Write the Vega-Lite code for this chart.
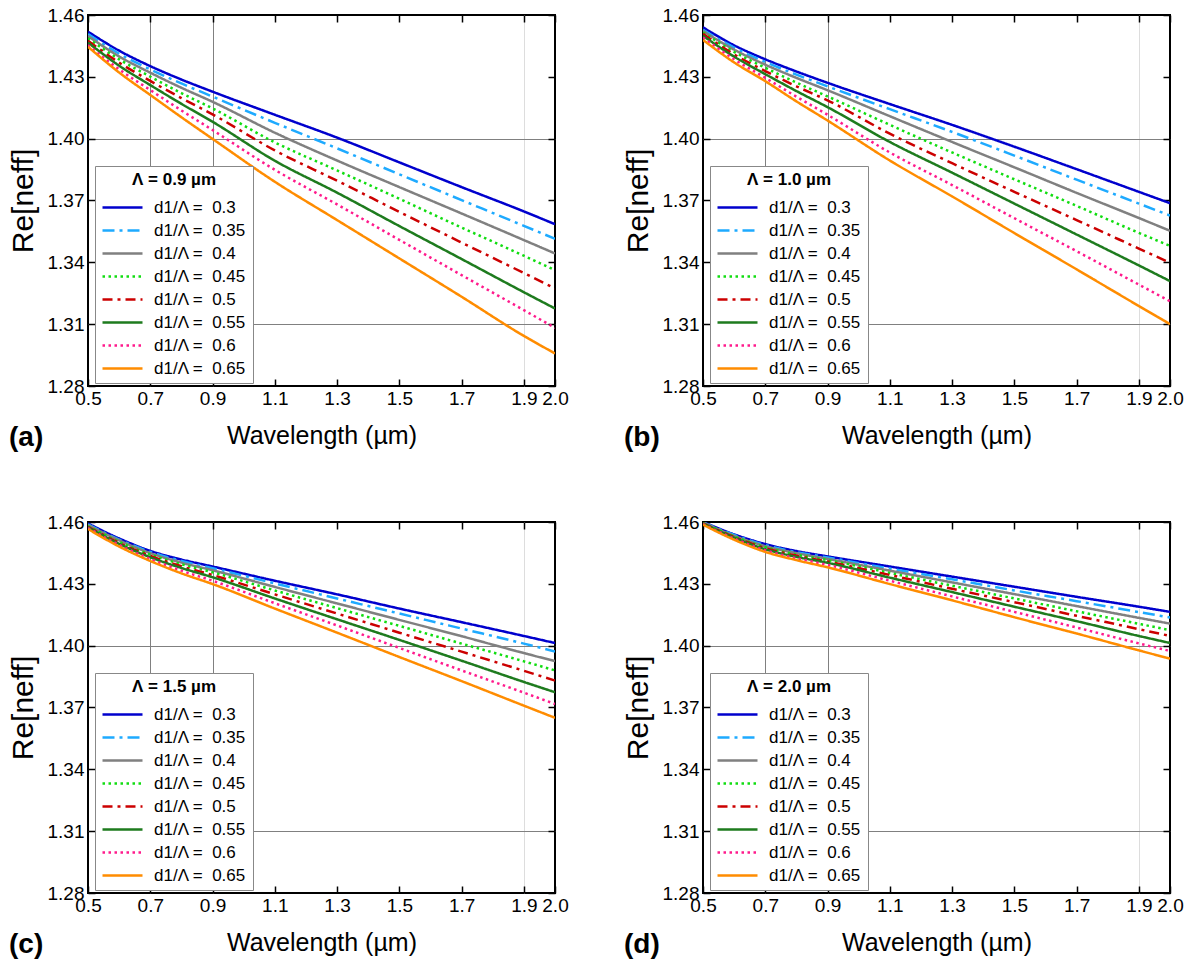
{
"$schema": "https://vega.github.io/schema/vega-lite/v6.json",
"padding": {"left": 7, "top": 5, "right": 5, "bottom": 5},
"config": {
  "font": "Liberation Sans",
  "background": "white",
  "view": {"stroke": "black", "strokeWidth": 2},
  "axis": {"labelColor": "black", "titleColor": "black", "tickColor": "black", "tickWidth": 1.5, "domain": false, "labelOverlap": false, "labelFlush": false, "labelFontSize": 19, "titleFontSize": 25, "titleFontWeight": "normal"},
  "legend": {"orient": "none", "legendX": 7, "legendY": 151, "fillColor": "white", "strokeColor": "#888888", "padding": 6, "titleFontSize": 17, "titleFontWeight": "bold", "titleAnchor": "middle", "titlePadding": 7, "titleColor": "black", "labelFontSize": 17, "labelColor": "black", "symbolType": "M-2,0H2", "symbolSize": 400, "symbolOffset": 10, "symbolStrokeWidth": 2.5, "labelOffset": 20, "rowPadding": 3},
  "title": {"fontSize": 28, "fontWeight": "bold", "color": "black"}
},
"data": {"values": [
{"p":"a","x":0.5,"d3":1.4519,"d35":1.4508,"d4":1.4498,"d45":1.4487,"d5":1.4475,"d55":1.4466,"d6":1.4454,"d65":1.4446},
{"p":"a","x":0.6,"d3":1.4427,"d35":1.4412,"d4":1.4399,"d45":1.4385,"d5":1.4369,"d55":1.4354,"d6":1.4336,"d65":1.4321},
{"p":"a","x":0.7,"d3":1.4352,"d35":1.4336,"d4":1.4320,"d45":1.4301,"d5":1.4280,"d55":1.4260,"d6":1.4236,"d65":1.4212},
{"p":"a","x":0.8,"d3":1.4287,"d35":1.4268,"d4":1.4247,"d45":1.4221,"d5":1.4197,"d55":1.4169,"d6":1.4137,"d65":1.4104},
{"p":"a","x":0.9,"d3":1.4228,"d35":1.4204,"d4":1.4179,"d45":1.4147,"d5":1.4118,"d55":1.4082,"d6":1.4042,"d65":1.3999},
{"p":"a","x":1.1,"d3":1.4116,"d35":1.4077,"d4":1.4029,"d45":1.3982,"d5":1.3943,"d55":1.3893,"d6":1.3849,"d65":1.3791},
{"p":"a","x":1.3,"d3":1.4005,"d35":1.3953,"d4":1.3894,"d45":1.3846,"d5":1.3796,"d55":1.3738,"d6":1.3681,"d65":1.3605},
{"p":"a","x":1.5,"d3":1.3885,"d35":1.3827,"d4":1.3765,"d45":1.3708,"d5":1.3645,"d55":1.3576,"d6":1.3509,"d65":1.3419},
{"p":"a","x":1.7,"d3":1.3765,"d35":1.3702,"d4":1.3637,"d45":1.3569,"d5":1.3496,"d55":1.3416,"d6":1.3338,"d65":1.3233},
{"p":"a","x":1.9,"d3":1.3647,"d35":1.3577,"d4":1.3508,"d45":1.3432,"d5":1.3348,"d55":1.3255,"d6":1.3168,"d65":1.3043},
{"p":"a","x":2.0,"d3":1.3585,"d35":1.3514,"d4":1.3443,"d45":1.3362,"d5":1.3273,"d55":1.3176,"d6":1.3082,"d65":1.2958},
{"p":"b","x":0.5,"d3":1.4540,"d35":1.4528,"d4":1.4522,"d45":1.4515,"d5":1.4509,"d55":1.4499,"d6":1.4491,"d65":1.4479},
{"p":"b","x":0.6,"d3":1.4453,"d35":1.4442,"d4":1.4432,"d45":1.4421,"d5":1.4409,"d55":1.4398,"d6":1.4385,"d65":1.4370},
{"p":"b","x":0.7,"d3":1.4385,"d35":1.4372,"d4":1.4359,"d45":1.4344,"d5":1.4328,"d55":1.4313,"d6":1.4295,"d65":1.4279},
{"p":"b","x":0.8,"d3":1.4326,"d35":1.4311,"d4":1.4295,"d45":1.4272,"d5":1.4254,"d55":1.4231,"d6":1.4204,"d65":1.4181},
{"p":"b","x":0.9,"d3":1.4271,"d35":1.4254,"d4":1.4235,"d45":1.4205,"d5":1.4186,"d55":1.4153,"d6":1.4116,"d65":1.4088},
{"p":"b","x":1.1,"d3":1.4168,"d35":1.4143,"d4":1.4109,"d45":1.4067,"d5":1.4024,"d55":1.3984,"d6":1.3933,"d65":1.3894},
{"p":"b","x":1.3,"d3":1.4067,"d35":1.4033,"d4":1.3984,"d45":1.3933,"d5":1.3881,"d55":1.3835,"d6":1.3775,"d65":1.3720},
{"p":"b","x":1.5,"d3":1.3961,"d35":1.3918,"d4":1.3861,"d45":1.3803,"d5":1.3742,"d55":1.3685,"d6":1.3614,"d65":1.3542},
{"p":"b","x":1.7,"d3":1.3852,"d35":1.3801,"d4":1.3737,"d45":1.3674,"d5":1.3605,"d55":1.3535,"d6":1.3454,"d65":1.3366},
{"p":"b","x":1.9,"d3":1.3742,"d35":1.3685,"d4":1.3615,"d45":1.3543,"d5":1.3467,"d55":1.3385,"d6":1.3292,"d65":1.3188},
{"p":"b","x":2.0,"d3":1.3687,"d35":1.3627,"d4":1.3553,"d45":1.3480,"d5":1.3398,"d55":1.3309,"d6":1.3211,"d65":1.3100},
{"p":"c","x":0.5,"d3":1.4593,"d35":1.4589,"d4":1.4585,"d45":1.4580,"d5":1.4577,"d55":1.4574,"d6":1.4571,"d65":1.4566},
{"p":"c","x":0.6,"d3":1.4520,"d35":1.4515,"d4":1.4511,"d45":1.4504,"d5":1.4499,"d55":1.4494,"d6":1.4489,"d65":1.4481},
{"p":"c","x":0.7,"d3":1.4460,"d35":1.4455,"d4":1.4449,"d45":1.4442,"d5":1.4436,"d55":1.4429,"d6":1.4421,"d65":1.4411},
{"p":"c","x":0.8,"d3":1.4418,"d35":1.4411,"d4":1.4403,"d45":1.4395,"d5":1.4385,"d55":1.4377,"d6":1.4364,"d65":1.4351},
{"p":"c","x":0.9,"d3":1.4384,"d35":1.4376,"d4":1.4366,"d45":1.4356,"d5":1.4343,"d55":1.4332,"d6":1.4315,"d65":1.4299},
{"p":"c","x":1.1,"d3":1.4315,"d35":1.4302,"d4":1.4285,"d45":1.4268,"d5":1.4249,"d55":1.4229,"d6":1.4206,"d65":1.4180},
{"p":"c","x":1.3,"d3":1.4249,"d35":1.4229,"d4":1.4205,"d45":1.4182,"d5":1.4156,"d55":1.4128,"d6":1.4098,"d65":1.4063},
{"p":"c","x":1.5,"d3":1.4180,"d35":1.4156,"d4":1.4125,"d45":1.4096,"d5":1.4063,"d55":1.4028,"d6":1.3989,"d65":1.3945},
{"p":"c","x":1.7,"d3":1.4114,"d35":1.4083,"d4":1.4046,"d45":1.4010,"d5":1.3971,"d55":1.3927,"d6":1.3880,"d65":1.3828},
{"p":"c","x":1.9,"d3":1.4047,"d35":1.4010,"d4":1.3964,"d45":1.3924,"d5":1.3878,"d55":1.3824,"d6":1.3772,"d65":1.3709},
{"p":"c","x":2.0,"d3":1.4013,"d35":1.3972,"d4":1.3925,"d45":1.3880,"d5":1.3831,"d55":1.3774,"d6":1.3717,"d65":1.3650},
{"p":"d","x":0.5,"d3":1.4600,"d35":1.4598,"d4":1.4597,"d45":1.4595,"d5":1.4593,"d55":1.4592,"d6":1.4590,"d65":1.4587},
{"p":"d","x":0.6,"d3":1.4540,"d35":1.4537,"d4":1.4533,"d45":1.4530,"d5":1.4527,"d55":1.4524,"d6":1.4520,"d65":1.4514},
{"p":"d","x":0.7,"d3":1.4493,"d35":1.4488,"d4":1.4483,"d45":1.4478,"d5":1.4473,"d55":1.4468,"d6":1.4463,"d65":1.4455},
{"p":"d","x":0.8,"d3":1.4459,"d35":1.4454,"d4":1.4449,"d45":1.4442,"d5":1.4437,"d55":1.4431,"d6":1.4424,"d65":1.4415},
{"p":"d","x":0.9,"d3":1.4433,"d35":1.4428,"d4":1.4421,"d45":1.4415,"d5":1.4408,"d55":1.4402,"d6":1.4392,"d65":1.4380},
{"p":"d","x":1.1,"d3":1.4384,"d35":1.4374,"d4":1.4364,"d45":1.4353,"d5":1.4343,"d55":1.4330,"d6":1.4315,"d65":1.4299},
{"p":"d","x":1.3,"d3":1.4335,"d35":1.4322,"d4":1.4307,"d45":1.4291,"d5":1.4276,"d55":1.4260,"d6":1.4239,"d65":1.4220},
{"p":"d","x":1.5,"d3":1.4286,"d35":1.4268,"d4":1.4250,"d45":1.4229,"d5":1.4211,"d55":1.4189,"d6":1.4164,"d65":1.4138},
{"p":"d","x":1.7,"d3":1.4237,"d35":1.4216,"d4":1.4192,"d45":1.4167,"d5":1.4145,"d55":1.4119,"d6":1.4088,"d65":1.4059},
{"p":"d","x":1.9,"d3":1.4189,"d35":1.4163,"d4":1.4135,"d45":1.4106,"d5":1.4080,"d55":1.4047,"d6":1.4011,"d65":1.3977},
{"p":"d","x":2.0,"d3":1.4164,"d35":1.4137,"d4":1.4107,"d45":1.4075,"d5":1.4047,"d55":1.4013,"d6":1.3974,"d65":1.3937}
]},
"transform": [{"fold": ["d3","d35","d4","d45","d5","d55","d6","d65"], "as": ["d","n"]}],
"resolve": {"scale": {"color": "independent", "strokeDash": "independent"}, "legend": {"color": "independent", "strokeDash": "independent"}},
"spacing": 59,
"vconcat": [
{"hconcat": [
{"width": 467, "height": 371,
 "transform": [{"filter": "datum.p == 'a'"}],
 "title": {"text": "(a)", "orient": "bottom", "anchor": "start", "frame": "group", "dx": -79, "dy": -28},
 "layer": [
  {"mark": {"type": "line", "strokeWidth": 2.5, "interpolate": "monotone", "clip": true},
   "encoding": {
    "x": {"field": "x", "type": "quantitative", "scale": {"domain": [0.5, 2.0], "nice": false, "zero": false}, "axis": {"values": [0.5,0.7,0.9,1.1,1.3,1.5,1.7,1.9,2.0], "format": ".1f", "title": "Wavelength (µm)", "tickSize": -7, "labelPadding": 10, "titlePadding": 15, "grid": true, "gridColor": {"condition": {"test": "abs(datum.value-1.9)<0.01", "value": "#dddddd"}, "value": "#808080"}, "gridOpacity": {"condition": {"test": "abs(datum.value-0.7)<0.01 || abs(datum.value-0.9)<0.01 || abs(datum.value-1.9)<0.01", "value": 1}, "value": 0}}},
    "y": {"field": "n", "type": "quantitative", "scale": {"domain": [1.28, 1.46], "nice": false, "zero": false}, "axis": {"values": [1.28,1.31,1.34,1.37,1.40,1.43,1.46], "format": ".2f", "title": "Re[neff]", "titleFontSize": 30, "tickSize": -7, "labelPadding": 11, "titlePadding": 9, "grid": true, "gridColor": "#808080", "gridOpacity": {"condition": {"test": "abs(datum.value-1.40)<0.001 || abs(datum.value-1.31)<0.001", "value": 1}, "value": 0}}},
    "color": {"field": "d", "type": "nominal", "scale": {"domain": ["d3","d35","d4","d45","d5","d55","d6","d65"], "range": ["#0000CD","#1EAAFF","#808080","#11DD11","#CC0000","#1E7B1E","#FF1A8C","#FF8C00"]}, "legend": {"title": "Λ = 0.9 µm", "labelExpr": "'d1/Λ =\u00a0 0.' + substring(datum.label, 1)"}},
    "strokeDash": {"field": "d", "type": "nominal", "scale": {"domain": ["d3","d35","d4","d45","d5","d55","d6","d65"], "range": [[1,0],[12,5,3,5],[1,0],[2.5,3.5],[10,5,3,5],[1,0],[2.5,3.5],[1,0]]}, "legend": {"title": "Λ = 0.9 µm", "labelExpr": "'d1/Λ =\u00a0 0.' + substring(datum.label, 1)"}}
   }},
  {"mark": {"type": "point", "opacity": 0},
   "encoding": {
    "x": {"field": "x", "type": "quantitative", "axis": {"orient": "top", "values": [0.5,0.7,0.9,1.1,1.3,1.5,1.7,1.9,2.0], "labels": false, "title": null, "tickSize": -7, "grid": false}},
    "y": {"field": "n", "type": "quantitative", "axis": {"orient": "right", "values": [1.28,1.31,1.34,1.37,1.40,1.43,1.46], "labels": false, "title": null, "tickSize": -7, "grid": false}}
   }}
 ],
 "resolve": {"axis": {"x": "independent", "y": "independent"}}
},
{"width": 467, "height": 371,
 "transform": [{"filter": "datum.p == 'b'"}],
 "title": {"text": "(b)", "orient": "bottom", "anchor": "start", "frame": "group", "dx": -79, "dy": -28},
 "layer": [
  {"mark": {"type": "line", "strokeWidth": 2.5, "interpolate": "monotone", "clip": true},
   "encoding": {
    "x": {"field": "x", "type": "quantitative", "scale": {"domain": [0.5, 2.0], "nice": false, "zero": false}, "axis": {"values": [0.5,0.7,0.9,1.1,1.3,1.5,1.7,1.9,2.0], "format": ".1f", "title": "Wavelength (µm)", "tickSize": -7, "labelPadding": 10, "titlePadding": 15, "grid": true, "gridColor": {"condition": {"test": "abs(datum.value-1.9)<0.01", "value": "#dddddd"}, "value": "#808080"}, "gridOpacity": {"condition": {"test": "abs(datum.value-0.7)<0.01 || abs(datum.value-0.9)<0.01 || abs(datum.value-1.9)<0.01", "value": 1}, "value": 0}}},
    "y": {"field": "n", "type": "quantitative", "scale": {"domain": [1.28, 1.46], "nice": false, "zero": false}, "axis": {"values": [1.28,1.31,1.34,1.37,1.40,1.43,1.46], "format": ".2f", "title": "Re[neff]", "titleFontSize": 30, "tickSize": -7, "labelPadding": 11, "titlePadding": 9, "grid": true, "gridColor": "#808080", "gridOpacity": {"condition": {"test": "abs(datum.value-1.40)<0.001 || abs(datum.value-1.31)<0.001", "value": 1}, "value": 0}}},
    "color": {"field": "d", "type": "nominal", "scale": {"domain": ["d3","d35","d4","d45","d5","d55","d6","d65"], "range": ["#0000CD","#1EAAFF","#808080","#11DD11","#CC0000","#1E7B1E","#FF1A8C","#FF8C00"]}, "legend": {"title": "Λ = 1.0 µm", "labelExpr": "'d1/Λ =\u00a0 0.' + substring(datum.label, 1)"}},
    "strokeDash": {"field": "d", "type": "nominal", "scale": {"domain": ["d3","d35","d4","d45","d5","d55","d6","d65"], "range": [[1,0],[12,5,3,5],[1,0],[2.5,3.5],[10,5,3,5],[1,0],[2.5,3.5],[1,0]]}, "legend": {"title": "Λ = 1.0 µm", "labelExpr": "'d1/Λ =\u00a0 0.' + substring(datum.label, 1)"}}
   }},
  {"mark": {"type": "point", "opacity": 0},
   "encoding": {
    "x": {"field": "x", "type": "quantitative", "axis": {"orient": "top", "values": [0.5,0.7,0.9,1.1,1.3,1.5,1.7,1.9,2.0], "labels": false, "title": null, "tickSize": -7, "grid": false}},
    "y": {"field": "n", "type": "quantitative", "axis": {"orient": "right", "values": [1.28,1.31,1.34,1.37,1.40,1.43,1.46], "labels": false, "title": null, "tickSize": -7, "grid": false}}
   }}
 ],
 "resolve": {"axis": {"x": "independent", "y": "independent"}}
}
], "resolve": {"scale": {"color": "independent", "strokeDash": "independent"}, "legend": {"color": "independent", "strokeDash": "independent"}}, "spacing": 52},
{"hconcat": [
{"width": 467, "height": 371,
 "transform": [{"filter": "datum.p == 'c'"}],
 "title": {"text": "(c)", "orient": "bottom", "anchor": "start", "frame": "group", "dx": -79, "dy": -28},
 "layer": [
  {"mark": {"type": "line", "strokeWidth": 2.5, "interpolate": "monotone", "clip": true},
   "encoding": {
    "x": {"field": "x", "type": "quantitative", "scale": {"domain": [0.5, 2.0], "nice": false, "zero": false}, "axis": {"values": [0.5,0.7,0.9,1.1,1.3,1.5,1.7,1.9,2.0], "format": ".1f", "title": "Wavelength (µm)", "tickSize": -7, "labelPadding": 10, "titlePadding": 15, "grid": true, "gridColor": {"condition": {"test": "abs(datum.value-1.9)<0.01", "value": "#dddddd"}, "value": "#808080"}, "gridOpacity": {"condition": {"test": "abs(datum.value-0.7)<0.01 || abs(datum.value-0.9)<0.01 || abs(datum.value-1.9)<0.01", "value": 1}, "value": 0}}},
    "y": {"field": "n", "type": "quantitative", "scale": {"domain": [1.28, 1.46], "nice": false, "zero": false}, "axis": {"values": [1.28,1.31,1.34,1.37,1.40,1.43,1.46], "format": ".2f", "title": "Re[neff]", "titleFontSize": 30, "tickSize": -7, "labelPadding": 11, "titlePadding": 9, "grid": true, "gridColor": "#808080", "gridOpacity": {"condition": {"test": "abs(datum.value-1.40)<0.001 || abs(datum.value-1.31)<0.001", "value": 1}, "value": 0}}},
    "color": {"field": "d", "type": "nominal", "scale": {"domain": ["d3","d35","d4","d45","d5","d55","d6","d65"], "range": ["#0000CD","#1EAAFF","#808080","#11DD11","#CC0000","#1E7B1E","#FF1A8C","#FF8C00"]}, "legend": {"title": "Λ = 1.5 µm", "labelExpr": "'d1/Λ =\u00a0 0.' + substring(datum.label, 1)"}},
    "strokeDash": {"field": "d", "type": "nominal", "scale": {"domain": ["d3","d35","d4","d45","d5","d55","d6","d65"], "range": [[1,0],[12,5,3,5],[1,0],[2.5,3.5],[10,5,3,5],[1,0],[2.5,3.5],[1,0]]}, "legend": {"title": "Λ = 1.5 µm", "labelExpr": "'d1/Λ =\u00a0 0.' + substring(datum.label, 1)"}}
   }},
  {"mark": {"type": "point", "opacity": 0},
   "encoding": {
    "x": {"field": "x", "type": "quantitative", "axis": {"orient": "top", "values": [0.5,0.7,0.9,1.1,1.3,1.5,1.7,1.9,2.0], "labels": false, "title": null, "tickSize": -7, "grid": false}},
    "y": {"field": "n", "type": "quantitative", "axis": {"orient": "right", "values": [1.28,1.31,1.34,1.37,1.40,1.43,1.46], "labels": false, "title": null, "tickSize": -7, "grid": false}}
   }}
 ],
 "resolve": {"axis": {"x": "independent", "y": "independent"}}
},
{"width": 467, "height": 371,
 "transform": [{"filter": "datum.p == 'd'"}],
 "title": {"text": "(d)", "orient": "bottom", "anchor": "start", "frame": "group", "dx": -79, "dy": -28},
 "layer": [
  {"mark": {"type": "line", "strokeWidth": 2.5, "interpolate": "monotone", "clip": true},
   "encoding": {
    "x": {"field": "x", "type": "quantitative", "scale": {"domain": [0.5, 2.0], "nice": false, "zero": false}, "axis": {"values": [0.5,0.7,0.9,1.1,1.3,1.5,1.7,1.9,2.0], "format": ".1f", "title": "Wavelength (µm)", "tickSize": -7, "labelPadding": 10, "titlePadding": 15, "grid": true, "gridColor": {"condition": {"test": "abs(datum.value-1.9)<0.01", "value": "#dddddd"}, "value": "#808080"}, "gridOpacity": {"condition": {"test": "abs(datum.value-0.7)<0.01 || abs(datum.value-0.9)<0.01 || abs(datum.value-1.9)<0.01", "value": 1}, "value": 0}}},
    "y": {"field": "n", "type": "quantitative", "scale": {"domain": [1.28, 1.46], "nice": false, "zero": false}, "axis": {"values": [1.28,1.31,1.34,1.37,1.40,1.43,1.46], "format": ".2f", "title": "Re[neff]", "titleFontSize": 30, "tickSize": -7, "labelPadding": 11, "titlePadding": 9, "grid": true, "gridColor": "#808080", "gridOpacity": {"condition": {"test": "abs(datum.value-1.40)<0.001 || abs(datum.value-1.31)<0.001", "value": 1}, "value": 0}}},
    "color": {"field": "d", "type": "nominal", "scale": {"domain": ["d3","d35","d4","d45","d5","d55","d6","d65"], "range": ["#0000CD","#1EAAFF","#808080","#11DD11","#CC0000","#1E7B1E","#FF1A8C","#FF8C00"]}, "legend": {"title": "Λ = 2.0 µm", "labelExpr": "'d1/Λ =\u00a0 0.' + substring(datum.label, 1)"}},
    "strokeDash": {"field": "d", "type": "nominal", "scale": {"domain": ["d3","d35","d4","d45","d5","d55","d6","d65"], "range": [[1,0],[12,5,3,5],[1,0],[2.5,3.5],[10,5,3,5],[1,0],[2.5,3.5],[1,0]]}, "legend": {"title": "Λ = 2.0 µm", "labelExpr": "'d1/Λ =\u00a0 0.' + substring(datum.label, 1)"}}
   }},
  {"mark": {"type": "point", "opacity": 0},
   "encoding": {
    "x": {"field": "x", "type": "quantitative", "axis": {"orient": "top", "values": [0.5,0.7,0.9,1.1,1.3,1.5,1.7,1.9,2.0], "labels": false, "title": null, "tickSize": -7, "grid": false}},
    "y": {"field": "n", "type": "quantitative", "axis": {"orient": "right", "values": [1.28,1.31,1.34,1.37,1.40,1.43,1.46], "labels": false, "title": null, "tickSize": -7, "grid": false}}
   }}
 ],
 "resolve": {"axis": {"x": "independent", "y": "independent"}}
}
], "resolve": {"scale": {"color": "independent", "strokeDash": "independent"}, "legend": {"color": "independent", "strokeDash": "independent"}}, "spacing": 52}
]
}
